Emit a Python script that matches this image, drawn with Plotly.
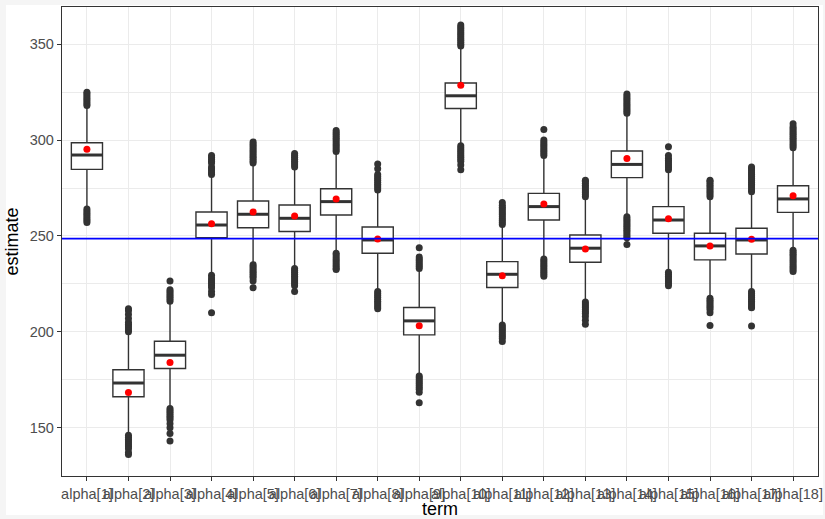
import plotly.graph_objects as go

terms = [f"alpha[{i}]" for i in range(1, 19)]

q1 = [284.7, 166.1, 180.9, 249.1, 254.3, 252.3, 260.9, 241.0, 198.4,
      316.5, 223.1, 258.3, 236.3, 280.4, 251.4, 237.5, 240.6, 262.3]
median = [292.2, 173.3, 187.8, 255.7, 261.3, 259.2, 267.9, 247.9, 205.7,
          323.1, 230.0, 265.3, 243.6, 287.3, 258.3, 244.8, 247.9, 269.3]
q3 = [298.6, 180.2, 195.1, 262.5, 268.2, 266.1, 274.6, 254.7, 212.7,
      329.8, 236.6, 272.2, 250.5, 294.3, 265.3, 251.4, 254.0, 276.2]
lower_whisker = [265, 147, 161, 230.5, 236, 234, 242, 222, 178,
                 298, 204.5, 239, 216.5, 261, 232, 218.5, 222, 243.5]
upper_whisker = [317, 199.5, 215, 281, 287, 285, 293, 273, 232,
                 348, 255, 291, 269.5, 313, 283.5, 269.5, 272, 295]
mean_est = [295.2, 168.4, 184.0, 256.3, 262.5, 260.4, 269.3, 248.4, 203.1,
            328.6, 229.2, 266.7, 243.2, 290.4, 259.0, 244.8, 248.3, 271.0]

outliers_hi = [
    [318, 319, 320, 321, 322, 323, 324, 325],
    [200, 201, 202, 203, 204, 205, 207, 209, 211, 212],
    [216, 217, 218, 219, 220, 221, 222, 226.5],
    [282, 283, 284, 285, 286, 288, 289, 290, 291, 292],
    [288, 289, 290, 291, 292, 293, 294, 295, 296, 297, 298, 299],
    [286, 287, 288, 289, 290, 291, 292, 293],
    [294, 295, 296, 297, 298, 299, 300, 301, 302, 303, 304, 305],
    [274, 275, 276, 277, 278, 279, 280, 281, 282, 285, 287.5],
    [233, 234, 235, 236, 237, 238, 239, 243.8],
    [349, 350, 351, 352, 353, 354, 355, 356, 357, 358, 359, 360],
    [256, 257, 258, 259, 260, 261, 262, 263, 264, 265, 266, 267.5],
    [292, 293, 294, 295, 296, 297, 298, 299, 300, 305.5],
    [270.5, 271.5, 272.5, 273.5, 274.5, 275.5, 276.5, 277.5, 278.5, 279],
    [314, 315, 316, 317, 318, 319, 320, 321, 322, 323, 324],
    [284.5, 285.5, 286.5, 287.5, 288.5, 289.5, 290.5, 292, 296.5],
    [270.5, 271.5, 272.5, 273.5, 274.5, 275.5, 276.5, 277.5, 278.5, 279],
    [273, 274, 275, 276, 277, 278, 279, 280, 281, 282, 283, 284, 285, 286],
    [296, 297, 298, 299, 300, 301, 302, 303, 304, 305, 306, 307, 308.5],
]
outliers_lo = [
    [264, 263, 262, 261, 260, 259, 258, 257],
    [146, 145, 144, 143, 142, 141, 140, 139, 137, 136],
    [160, 159, 158, 157, 156, 155, 154, 152, 150, 147, 143],
    [229.5, 228, 227, 226, 225, 224, 223, 221, 219.5, 210],
    [235, 234, 233, 232, 231, 230, 229, 228, 226.5, 223],
    [233, 232, 231, 230, 229, 228, 227, 226, 225, 224, 221],
    [241, 240, 239, 238, 237, 236, 235, 234, 233, 232.5],
    [221, 220, 219, 218, 217, 216, 215, 214, 213, 212],
    [177, 176, 175, 174, 173, 172, 171, 170, 168.5, 163],
    [297, 296, 295, 294, 293, 292, 291, 290, 289, 287, 284.5],
    [203.5, 202.5, 201.5, 200.5, 199.5, 198.5, 197.5, 196.5, 195],
    [238, 237, 236, 235, 234, 233, 232, 231, 230, 229],
    [215.5, 214.5, 213.5, 212.5, 211.5, 210.5, 209.5, 208, 206, 204],
    [260, 259, 258, 257, 256, 255, 254, 253, 252, 251, 250, 249, 245.5],
    [231, 230, 229, 228, 227, 226, 225, 224],
    [217.5, 216.5, 215.5, 214.5, 213.5, 212.5, 211.5, 210, 203.3],
    [221, 220, 219, 218, 217, 216, 215, 214, 213, 212.5, 203],
    [242.5, 241.5, 240.5, 239.5, 238.5, 237.5, 236.5, 235.5, 234.5, 233.5, 232.5, 231.5],
]
reference_value = 248.6

y_ticks = [150, 200, 250, 300, 350]

DARK = "#333333"
GRID = "#EBEBEB"
FONT = "Liberation Sans"

fig = go.Figure()

fig.add_trace(go.Box(
    x=terms, q1=q1, median=median, q3=q3,
    lowerfence=lower_whisker, upperfence=upper_whisker,
    boxpoints=False, width=0.75, whiskerwidth=0,
    fillcolor="white", line=dict(color=DARK, width=1.4),
    showlegend=False, hoverinfo="skip",
))

# thick median bars (ggplot fatten)
fig.add_trace(go.Scatter(
    x=terms, y=median, mode="markers",
    marker=dict(symbol="line-ew", size=22.0, color=DARK,
                line=dict(color=DARK, width=3)),
    showlegend=False, hoverinfo="skip",
))

ox, oy = [], []
for t, hi, lo in zip(terms, outliers_hi, outliers_lo):
    for v in hi + lo:
        ox.append(t)
        oy.append(v)
fig.add_trace(go.Scatter(
    x=ox, y=oy, mode="markers",
    marker=dict(size=7, color=DARK),
    showlegend=False, hoverinfo="skip",
))

# horizontal reference line across full panel
fig.add_trace(go.Scatter(
    x=[0, 1], y=[reference_value, reference_value], mode="lines",
    line=dict(color="#0000FF", width=1.8),
    xaxis="x2", showlegend=False, hoverinfo="skip",
))

fig.add_trace(go.Scatter(
    x=terms, y=mean_est, mode="markers",
    marker=dict(size=7, color="#FF0000"),
    showlegend=False, hoverinfo="skip",
))

fig.update_layout(
    width=825, height=519,
    margin=dict(l=62, r=7, t=7, b=43, autoexpand=False),
    paper_bgcolor="white", plot_bgcolor="white",
    font=dict(family=FONT, color="#4D4D4D", size=14.5),
    xaxis=dict(
        type="category", categoryorder="array", categoryarray=terms,
        range=[-0.6, 17.6], showgrid=True, gridcolor=GRID, gridwidth=1.3,
        tickangle=0, ticks="outside", ticklen=4, tickwidth=1.3, tickcolor=DARK,
        tickfont=dict(size=14.5, color="#4D4D4D", family=FONT),
        showline=True, mirror=True, linecolor=DARK, linewidth=1.3,
        zeroline=False, automargin=False,
        title=dict(text="term", font=dict(size=18, color="black", family=FONT), standoff=4),
    ),
    xaxis2=dict(overlaying="x", range=[0, 1], visible=False, showgrid=False),
    yaxis=dict(
        range=[124.8, 369.4], tickvals=y_ticks, ticktext=[str(v) for v in y_ticks],
        showgrid=True, gridcolor=GRID, gridwidth=1.3,
        minor=dict(dtick=25, tick0=0, showgrid=True, gridcolor=GRID, gridwidth=0.7, ticks=""),
        ticks="outside", ticklen=4, tickwidth=1.3, tickcolor=DARK,
        tickfont=dict(size=14.5, color="#4D4D4D", family=FONT),
        showline=True, mirror=True, linecolor=DARK, linewidth=1.3,
        zeroline=False, automargin=False,
        title=dict(text="estimate", font=dict(size=18, color="black", family=FONT), standoff=6),
    ),
)

# light grey outer frame of the picture
frame = "#F5F5F5"
W, H, L, R, T, B = 825, 519, 62, 7, 7, 43
pw, ph = W - L - R, H - T - B
def px(xp):
    return (xp - L) / pw
def py(yp):
    return 1 - (yp - T) / ph
for x0, x1, y0, y1 in [(0, 6, 0, H), (823, W, 0, H), (0, W, 0, 5), (0, W, 515, H)]:
    fig.add_shape(type="rect", xref="paper", yref="paper",
                  x0=px(x0), x1=px(x1), y0=py(y1), y1=py(y0),
                  fillcolor=frame, line=dict(width=0), layer="below")

fig.write_html(
    "out.html",
    config={"displayModeBar": False},
    post_script="document.body.style.margin='0';document.body.style.overflow='hidden';",
)
